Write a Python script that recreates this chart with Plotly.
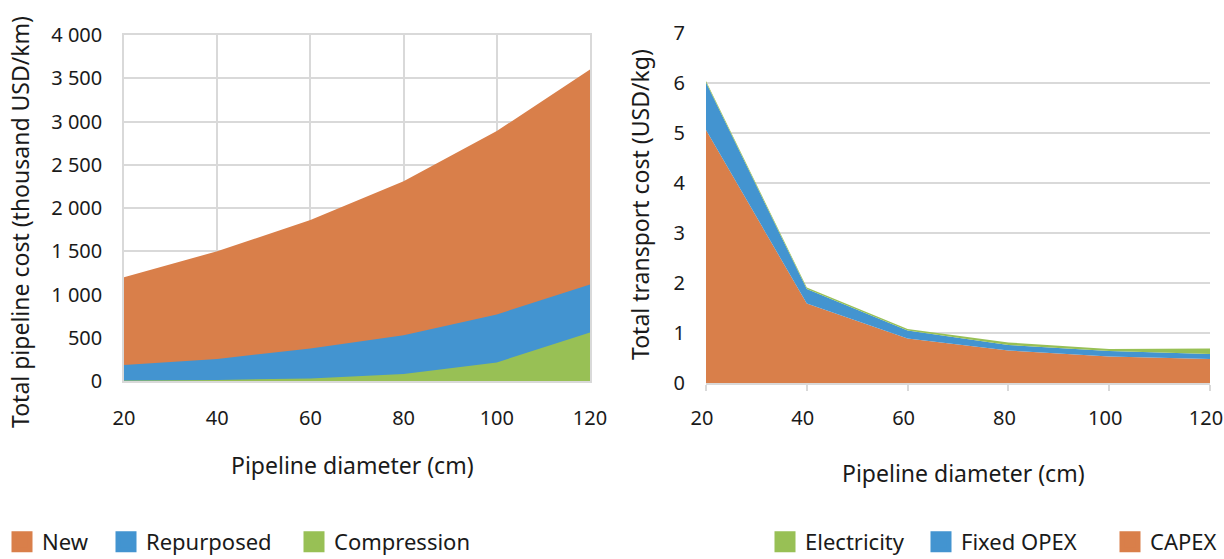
import plotly.graph_objects as go

# ---------------- data ----------------
diameters = [20, 40, 60, 80, 100, 120]

# Left chart: total pipeline cost (thousand USD/km)
new_cost = [1200, 1500, 1860, 2310, 2890, 3600]
repurposed_cost = [185, 255, 375, 530, 770, 1115]
compression_cost = [5, 12, 30, 80, 215, 560]

# Right chart: total transport cost (USD/kg), stacked
capex = [5.06, 1.59, 0.89, 0.65, 0.53, 0.48]
fixed_opex = [0.95, 0.29, 0.16, 0.11, 0.11, 0.10]
electricity = [0.03, 0.03, 0.03, 0.05, 0.04, 0.11]

left_ytick_vals = [0, 500, 1000, 1500, 2000, 2500, 3000, 3500, 4000]
left_ytick_text = ["0", "500", "1 000", "1 500", "2 000", "2 500", "3 000", "3 500", "4 000"]
right_ytick_vals = [0, 1, 2, 3, 4, 5, 6, 7]

# ---------------- style ----------------
ORANGE = "#D97F4A"
BLUE = "#4394D0"
GREEN = "#98C055"
GRID = "#D9D9D9"
TXT = "#1a1a1a"
FONT = "Noto Sans"
W, H = 1224, 559

fig = go.Figure()

# Left chart areas (overlapping)
for name, vals, col in [("New", new_cost, ORANGE),
                        ("Repurposed", repurposed_cost, BLUE),
                        ("Compression", compression_cost, GREEN)]:
    fig.add_trace(go.Scatter(x=diameters, y=vals, mode="lines", fill="tozeroy",
                             line=dict(width=0, color=col), fillcolor=col,
                             name=name, showlegend=False, xaxis="x", yaxis="y"))

# Right chart stacked areas
for name, vals, col in [("CAPEX", capex, ORANGE),
                        ("Fixed OPEX", fixed_opex, BLUE),
                        ("Electricity", electricity, GREEN)]:
    fig.add_trace(go.Scatter(x=diameters, y=vals, mode="lines", stackgroup="one",
                             line=dict(width=0, color=col), fillcolor=col,
                             name=name, showlegend=False, xaxis="x2", yaxis="y2"))

# Legend entries (square swatches), one legend each for exact placement
legend_items = [
    ("New", ORANGE, "legend", 2, "left", "x", "y"),
    ("Repurposed", BLUE, "legend2", 106, "left", "x", "y"),
    ("Compression", GREEN, "legend3", 294, "left", "x", "y"),
    ("Electricity", GREEN, "legend4", 765, "left", "x2", "y2"),
    ("Fixed OPEX", BLUE, "legend5", 921, "left", "x2", "y2"),
    ("CAPEX", ORANGE, "legend6", 1222, "right", "x2", "y2"),
]
legend_layouts = {}
for name, col, lg, px, anc, xa, ya in legend_items:
    fig.add_trace(go.Scatter(x=[None], y=[None], mode="markers", name=name,
                             marker=dict(symbol="square", size=16, color=col,
                                         line=dict(width=5, color=col)),
                             legend=lg, xaxis=xa, yaxis=ya, showlegend=True))
    legend_layouts[lg] = dict(x=px / W, y=-4 / H, xanchor=anc, yanchor="bottom",
                              orientation="h", bgcolor="rgba(0,0,0,0)",
                              font=dict(family=FONT, size=22, color=TXT))

common_axis = dict(automargin=False, zeroline=False, tickfont=dict(size=20),
                   ticklabeloverflow="allow")

fig.update_layout(
    width=W, height=H,
    margin=dict(l=0, r=0, t=0, b=0, autoexpand=False),
    paper_bgcolor="white", plot_bgcolor="white",
    font=dict(family=FONT, size=20, color=TXT),
    **legend_layouts,
    xaxis=dict(domain=[124 / W, 590 / W], range=[20, 120], tickvals=diameters,
               showgrid=True, gridcolor=GRID, gridwidth=1.5,
               showline=True, linecolor=GRID, linewidth=1.5, mirror=True,
               ticks="", ticklabelstandoff=18, **common_axis),
    yaxis=dict(domain=[1 - 381 / H, 1 - 35 / H], range=[0, 4000],
               tickvals=left_ytick_vals, ticktext=left_ytick_text,
               showgrid=True, gridcolor=GRID, gridwidth=1.5,
               showline=True, linecolor=GRID, linewidth=1.5, mirror=True,
               ticks="", ticklabelstandoff=16, **common_axis),
    xaxis2=dict(domain=[706 / W, 1210 / W], range=[20, 120], tickvals=diameters,
                anchor="y2", showgrid=False,
                showline=True, linecolor=GRID, linewidth=1.5,
                ticks="outside", ticklen=6, tickcolor=GRID, tickwidth=1.5,
                ticklabelstandoff=10, ticklabelshift=-4, **common_axis),
    yaxis2=dict(domain=[1 - 383 / H, 1 - 33 / H], range=[0, 7], anchor="x2",
                tickvals=right_ytick_vals,
                showgrid=True, gridcolor=GRID, gridwidth=1.5,
                showline=False, ticks="", ticklabelstandoff=20, **common_axis),
    annotations=[
        dict(text="Total pipeline cost (thousand USD/km)", xref="paper", yref="paper",
             x=20 / W, y=1 - 222 / H, textangle=-90, showarrow=False,
             xanchor="center", yanchor="middle", font=dict(size=23)),
        dict(text="Pipeline diameter (cm)", xref="paper", yref="paper",
             x=353 / W, y=1 - 465 / H, showarrow=False,
             xanchor="center", yanchor="middle", font=dict(size=23)),
        dict(text="Total transport cost (USD/kg)", xref="paper", yref="paper",
             x=640 / W, y=1 - 205 / H, textangle=-90, showarrow=False,
             xanchor="center", yanchor="middle", font=dict(size=23)),
        dict(text="Pipeline diameter (cm)", xref="paper", yref="paper",
             x=963 / W, y=1 - 473 / H, showarrow=False,
             xanchor="center", yanchor="middle", font=dict(size=23)),
    ],
)

fig.write_html(
    "out.html",
    config={"displayModeBar": False},
    post_script="document.body.style.margin='0';document.body.style.overflow='hidden';",
)
